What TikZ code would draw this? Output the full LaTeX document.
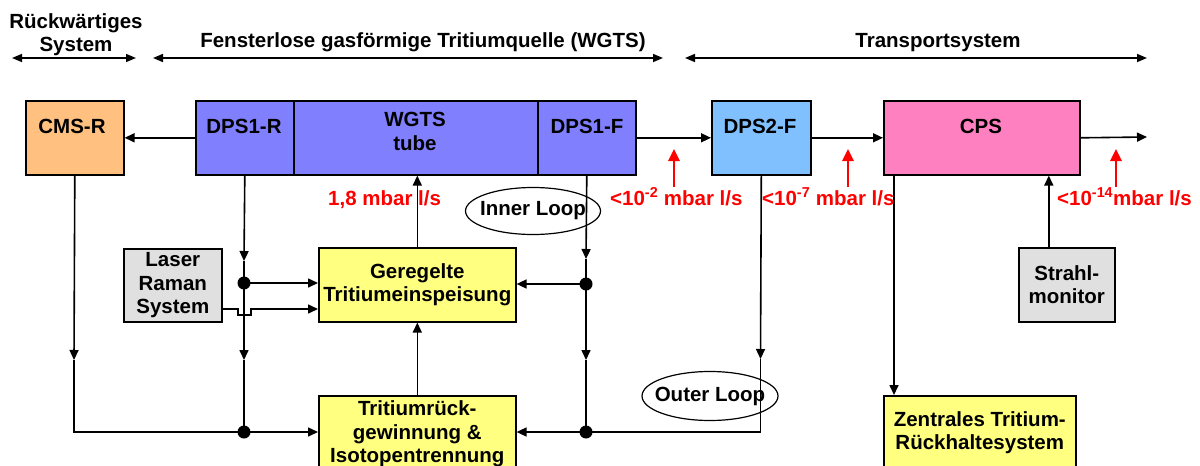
\documentclass[tikz,border=0pt]{standalone}
\usepackage{fontspec}
\setmainfont{Liberation Sans}
\usetikzlibrary{arrows.meta,shapes.geometric}
\definecolor{cmsorange}{HTML}{FFC080}
\definecolor{dpsblue}{HTML}{8080FF}
\definecolor{dpstwoblue}{HTML}{80C0FF}
\definecolor{cpspink}{HTML}{FF80C0}
\definecolor{boxyellow}{HTML}{FFFF80}
\definecolor{boxgray}{HTML}{E0E0E0}
\definecolor{leakred}{HTML}{FF0000}
\begin{document}
\begin{tikzpicture}[x=1pt,y=-1pt,
  every node/.style={font=\bfseries\fontsize{20.5}{23.5}\selectfont, inner sep=0pt, align=center},
  box/.style={draw, line width=1.6pt, anchor=north west},
  txt/.style={anchor=base},
  ln/.style={line width=1.6pt},
  conn/.style={line width=1.6pt, -{Triangle[length=10pt,width=9pt]}},
  span/.style={line width=1.6pt, {Triangle[length=10pt,width=8pt]}-{Triangle[length=10pt,width=8pt]}},
  dot/.style={circle, fill=black, minimum size=13pt, inner sep=0pt},
  loopnode/.style={ellipse, draw, line width=1.2pt, minimum width=135pt, minimum height=47pt, inner sep=0pt},
  leak/.style={draw=leakred, line width=2.6pt, -{Triangle[length=12pt,width=11pt]}},
  leaktxt/.style={text=leakred, anchor=base west}]
\useasboundingbox (0,0) rectangle (1200,466);
\clip (0,0) rectangle (1200,466);

% header
\node[anchor=center] (hRueck) at (76,34.5) {Rückwärtiges\\System};
\node[txt] (hWGTS) at (423,47) {Fensterlose gasförmige Tritiumquelle (WGTS)};
\node[txt] (hTrans) at (938,47.5) {Transportsystem};
\coordinate (s1a) at (12,58);  \coordinate (s1b) at (136,58);
\coordinate (s2a) at (153,58); \coordinate (s2b) at (663,58);
\coordinate (s3a) at (685,58); \coordinate (s3b) at (1147,58);
\draw[span] (s1a) -- (s1b);
\draw[span] (s2a) -- (s2b);
\draw[span] (s3a) -- (s3b);

% top row boxes
\node[box, fill=cmsorange, minimum width=98pt, minimum height=74pt] (cms) at (25,100) {};
\node[box, fill=dpsblue, minimum width=98pt, minimum height=74pt] (dps1r) at (195,100) {};
\node[box, fill=dpsblue, minimum width=244pt, minimum height=74pt] (wgts) at (293,100) {};
\node[box, fill=dpsblue, minimum width=98pt, minimum height=74pt] (dps1f) at (537,100) {};
\node[box, fill=dpstwoblue, minimum width=99pt, minimum height=74pt] (dps2f) at (711,100) {};
\node[box, fill=cpspink, minimum width=196pt, minimum height=74pt] (cps) at (883,100) {};
\node[txt] (cmsT) at (72,133) {CMS-R};
\node[txt] (dps1rT) at (244,133) {DPS1-R};
\node[anchor=center] (wgtsT) at (415,131.5) {WGTS\\tube};
\node[txt] (dps1fT) at (587,133) {DPS1-F};
\node[txt] (dps2fT) at (760,133) {DPS2-F};
\node[txt] (cpsT) at (981,133) {CPS};

% lower boxes
\node[box, fill=boxgray, minimum width=98pt, minimum height=73pt] (laser) at (123,248) {Laser\\Raman\\System};
\node[box, fill=boxyellow, minimum width=197pt, minimum height=74pt] (ger) at (318,247) {Geregelte\\Tritiumeinspeisung};
\node[box, fill=boxgray, minimum width=96pt, minimum height=74pt] (strahl) at (1018,247) {Strahl-\\monitor};
\node[box, fill=boxyellow, minimum width=197pt, minimum height=76pt] (trit) at (318,395) {Tritiumrück-\\gewinnung \&\\Isotopentrennung};
\node[box, fill=boxyellow, minimum width=192pt, minimum height=74pt] (zent) at (883,395) {Zentrales Tritium-\\Rückhaltesystem};

% loops
\node[loopnode, label={center:Inner Loop}] (inner) at (533,211) {};
\node[loopnode, minimum width=136pt, minimum height=49pt, label={center:Outer Loop}] (outer) at (710,396) {};

% top row connectors
\coordinate (beamEnd) at (1147,137);
\draw[conn] (dps1r.west) -- (cms.east);
\draw[conn] (dps1f.east) -- (dps2f.west);
\draw[conn] (dps2f.east) -- (cps.west);
\draw[conn] (cps.east) -- (beamEnd);

% dots
\node[dot] (d1) at (244,283) {};
\node[dot] (d2) at (244,432) {};
\node[dot] (d3) at (586,284) {};
\node[dot] (d4) at (586,432) {};

% CMS-R line
\coordinate (cA) at (74,360); \coordinate (cB) at (74,432);
\draw[conn] (cms.south) -- (cA);
\draw[conn] (cA) -- (cB) -- (trit.west |- cB);

% DPS1-R line
\coordinate (rA) at (244,261); \coordinate (rB) at (244,360);
\draw[conn] (dps1r.south) -- (rA);
\draw[ln] (rA) -- (d1.center);
\draw[conn] (d1.center) -- (rB);
\draw[ln] (rB) -- (d2.center);
\draw[conn] (d1.center) -- (ger.west |- d1);

% Laser Raman line with jumper
\coordinate (j1) at (238,309); \coordinate (j2) at (238,315);
\coordinate (j3) at (251,315); \coordinate (j4) at (251,309);
\draw[conn] (laser.east |- j1) -- (j1) -- (j2) -- (j3) -- (j4) -- (ger.west |- j4);

% DPS1-F line
\coordinate (fA) at (586,259); \coordinate (fB) at (586,360);
\draw[conn] (dps1f.south) -- (fA);
\draw[ln] (fA) -- (d3.center);
\draw[conn] (d3.center) -- (fB);
\draw[ln] (fB) -- (d4.center);
\draw[conn] (d3.center) -- (ger.east |- d3);

% DPS2-F line
\coordinate (tA) at (760.5,359); \coordinate (tB) at (760.5,432);
\draw[conn] (dps2f.south) -- (tA);
\draw[conn] (tA) -- (tB) -- (trit.east |- tB);

% feeds
\draw[conn] (ger.north) -- (ger.north |- wgts.south);
\draw[conn] (trit.north) -- (ger.south);
\draw[conn] ([xshift=11pt]cps.south west) -- ([xshift=11pt]zent.north west);
\draw[conn] ([xshift=-18pt]strahl.north) -- ([xshift=-18pt]strahl.north |- cps.south);

% leak rates
\coordinate (l1a) at (674,187); \coordinate (l1b) at (674,149);
\coordinate (l2a) at (848,187); \coordinate (l2b) at (848,149);
\coordinate (l3a) at (1116,187); \coordinate (l3b) at (1116,149);
\draw[leak] (l1a) -- (l1b);
\draw[leak] (l2a) -- (l2b);
\draw[leak] (l3a) -- (l3b);
\node[leaktxt] (rate0) at (328,205) {1,8 mbar l/s};
\node[leaktxt] (rate1) at (610,205) {<10\textsuperscript{-2} mbar l/s};
\node[leaktxt] (rate2) at (762,205) {<10\textsuperscript{-7} mbar l/s};
\node[leaktxt] (rate3) at (1057,205) {<10\textsuperscript{-14}mbar l/s};
\end{tikzpicture}
\end{document}
